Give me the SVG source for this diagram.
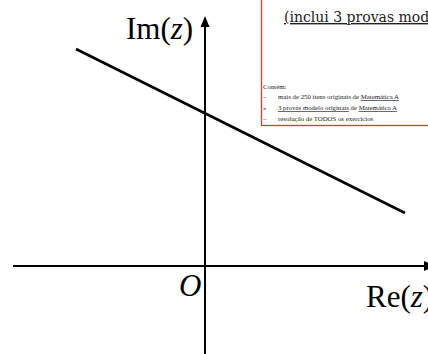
<svg xmlns="http://www.w3.org/2000/svg" width="428" height="354" viewBox="0 0 428 354">
<style>
.ax{stroke:#000;stroke-width:2;fill:none}
.ln{stroke:#000;stroke-width:2.6;fill:none}
.lbl{font-family:"Liberation Serif","Times New Roman",serif;font-size:31px;fill:#000}
.it{font-style:italic}
.sm{font-family:"Liberation Serif","Times New Roman",serif;font-size:6.8px;fill:#222}
.hd{font-family:"DejaVu Serif","Liberation Serif",serif;font-size:14px;fill:#222}
</style>
<rect width="428" height="354" fill="#fff"/>
<g id="box">
<rect x="261.5" y="-5" width="180" height="130.5" fill="#fff" stroke="#ee3333" stroke-width="1.3"/>
<text class="hd" x="284" y="22" text-decoration="underline">(inclui 3 provas mod</text>
<text class="sm" x="263" y="89">Contém:</text>
<text class="sm" x="263" y="99">–</text>
<text class="sm" x="278" y="99">mais de 250 itens originais de <tspan text-decoration="underline">Matemática A</tspan></text>
<text class="sm" x="263" y="110">»</text>
<text class="sm" x="278" y="110"><tspan text-decoration="underline">3 provas modelo originais</tspan> de <tspan text-decoration="underline">Matemática A</tspan></text>
<text class="sm" x="263" y="121">–</text>
<text class="sm" x="278" y="121">resolução de TODOS os exercícios</text>
</g>
<g id="connectors">
<line class="ax" x1="13" y1="266" x2="426" y2="266"/>
<polygon points="436,266 424,261 424,271" fill="#000"/>
<line class="ax" x1="205" y1="24" x2="205" y2="354"/>
<polygon points="205,16 200.5,27 209.5,27" fill="#000"/>
<line class="ln" x1="76" y1="49" x2="405" y2="213"/>
</g>
<g id="labels">
<text class="lbl" x="126" y="39">Im(<tspan class="it">z</tspan>)</text>
<text class="lbl" x="366" y="307">Re(<tspan class="it">z</tspan>)</text>
<text class="lbl it" x="179" y="296">O</text>
</g>
</svg>
